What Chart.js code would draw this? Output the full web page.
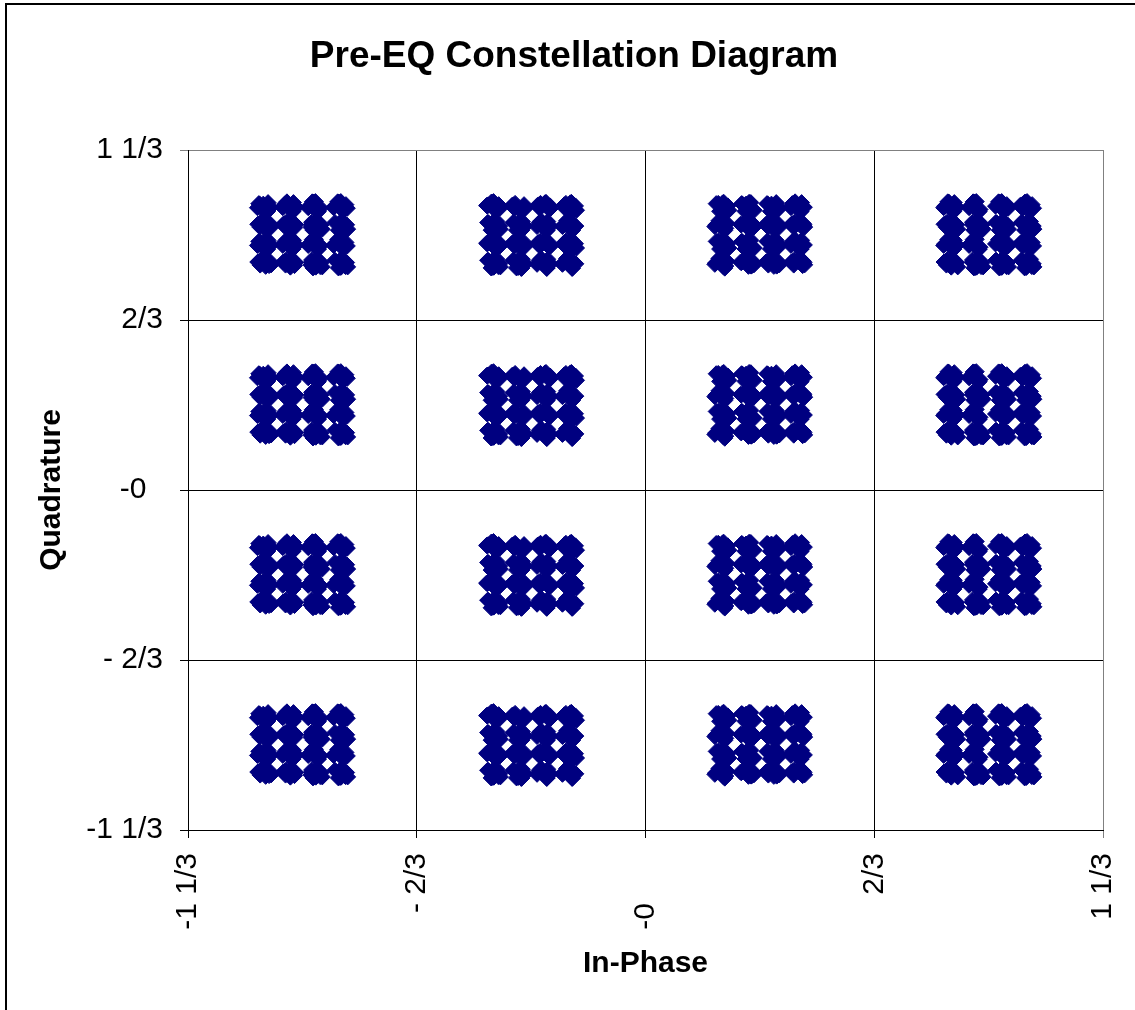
<!DOCTYPE html>
<html>
<head>
<meta charset="utf-8">
<title>Pre-EQ Constellation Diagram</title>
<script src="https://cdn.jsdelivr.net/npm/chart.js@4/dist/chart.umd.min.js"></script>
<style>
  html, body { margin: 0; padding: 0; background: #ffffff; }
  #wrap { position: relative; width: 1135px; height: 1010px; }
</style>
</head>
<body>
<div id="wrap"><canvas id="chart" width="1135" height="1010"></canvas></div>
<script>
// Ideal symbol levels (In-Phase and Quadrature), hierarchical 256-QAM grid
const iLevels = [-1.111, -1.037, -0.963, -0.889, -0.444, -0.370, -0.296, -0.222,
                  0.222,  0.296,  0.370,  0.444,  0.889,  0.963,  1.037,  1.111];
const qLevels = [-1.111, -1.037, -0.963, -0.889, -0.444, -0.370, -0.296, -0.222,
                  0.222,  0.296,  0.370,  0.444,  0.889,  0.963,  1.037,  1.111];

// Received-sample deviations around each ideal symbol (I and Q)
const noiseI = [ 0.004, -0.015,  0.018, -0.006,  0.011, -0.020,  0.001,  0.014,
                -0.010,  0.021, -0.003,  0.008, -0.017,  0.016, -0.012,  0.006,
                -0.001,  0.019, -0.008,  0.012, -0.019,  0.003,  0.015, -0.014,
                 0.009, -0.005,  0.020, -0.011,  0.002, -0.016,  0.013, -0.007];
const noiseQ = [-0.012,  0.007,  0.003, -0.018,  0.016, -0.004,  0.020, -0.009,
                 0.013, -0.014,  0.010, -0.020,  0.002,  0.008, -0.007,  0.017,
                -0.016, -0.002,  0.019, -0.011,  0.005,  0.015, -0.013,  0.011,
                -0.019,  0.018, -0.006,  0.004, -0.015,  0.012, -0.001,  0.009];

// Axis ticks and their fraction-formatted labels
const tickValues = [-4/3, -2/3, 0, 2/3, 4/3];
const xTickLabels = ['-1 1/3', '- 2/3', '-0      ', '2/3', '1 1/3'];
const yTickLabels = ['-1 1/3', '- 2/3', '-0  ', '2/3', '1 1/3'];

const samplesPerSymbol = 10;

// Received samples: each ideal symbol observed several times
const samples = [];
let k = 0;
for (const q of qLevels) {
  for (const i of iLevels) {
    for (let j = 0; j < samplesPerSymbol; j++) {
      const n = (k * 7 + j * 13) % noiseI.length;
      samples.push({ x: i + noiseI[n], y: q + noiseQ[n] });
    }
    k++;
  }
}

const FONT = "'Liberation Sans', Arial, Helvetica, sans-serif";

// Outer chart frame (left and top edges)
const framePlugin = {
  id: 'frame',
  beforeDraw(chart) {
    const ctx = chart.ctx;
    ctx.save();
    ctx.fillStyle = '#ffffff';
    ctx.fillRect(0, 0, chart.width, chart.height);
    ctx.strokeStyle = '#000000';
    ctx.lineWidth = 2;
    ctx.beginPath();
    ctx.moveTo(6, chart.height);
    ctx.lineTo(6, 4);
    ctx.lineTo(chart.width, 4);
    ctx.stroke();
    ctx.restore();
  }
};

const setTicks = (scale) => {
  scale.ticks = tickValues.map(v => ({ value: v }));
};

new Chart(document.getElementById('chart'), {
  type: 'scatter',
  data: {
    datasets: [{
      label: 'Received symbols',
      data: samples,
      pointStyle: 'rectRot',
      pointRadius: 8,
      pointHoverRadius: 8,
      backgroundColor: '#000080',
      borderColor: '#000080',
      borderWidth: 1
    }]
  },
  options: {
    responsive: false,
    animation: false,
    layout: { padding: { left: 45, right: 32, top: 0, bottom: 0 } },
    plugins: {
      legend: { display: false },
      tooltip: { enabled: false },
      title: {
        display: true,
        text: 'Pre-EQ Constellation Diagram',
        color: '#000000',
        font: { family: FONT, size: 37, weight: 'bold' },
        padding: { top: 35, bottom: 70.6 }
      }
    },
    scales: {
      x: {
        type: 'linear',
        min: -4/3,
        max: 4/3,
        afterBuildTicks: setTicks,
        afterFit: (s) => { s.height = 180; s.paddingLeft = 0; s.paddingRight = 0; },
        grid: {
          color: (c) => (c.index === 4 ? '#808080' : '#000000'),
          lineWidth: 1,
          tickLength: 8,
          drawTicks: true
        },
        border: { display: true, color: '#000000', width: 1 },
        ticks: {
          minRotation: 90,
          maxRotation: 90,
          padding: 15,
          color: '#000000',
          font: { family: FONT, size: 30 },
          callback: (v, idx) => xTickLabels[idx]
        },
        title: {
          display: true,
          text: 'In-Phase',
          color: '#000000',
          font: { family: FONT, size: 30, weight: 'bold' },
          padding: { top: 0, bottom: 28 }
        }
      },
      y: {
        type: 'linear',
        min: -4/3,
        max: 4/3,
        afterBuildTicks: setTicks,
        afterFit: (s) => { s.width = 143; s.paddingTop = 0; s.paddingBottom = 0; },
        grid: {
          color: (c) => (c.index === 4 ? '#808080' : '#000000'),
          lineWidth: 1,
          tickLength: 8,
          drawTicks: true
        },
        border: { display: true, color: '#000000', width: 1 },
        ticks: {
          padding: 17,
          color: '#000000',
          font: { family: FONT, size: 30 },
          callback: (v, idx) => yTickLabels[idx]
        },
        title: {
          display: true,
          text: 'Quadrature',
          color: '#000000',
          font: { family: FONT, size: 30, weight: 'bold' },
          padding: { top: -11, bottom: 0 }
        }
      }
    }
  },
  plugins: [framePlugin]
});
</script>
</body>
</html>
